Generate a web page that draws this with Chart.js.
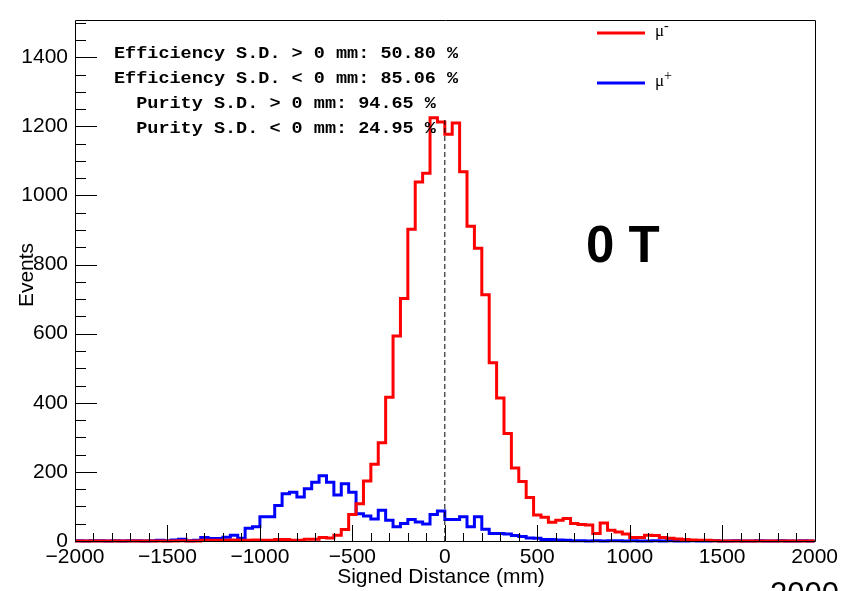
<!DOCTYPE html>
<html>
<head>
<meta charset="utf-8">
<script src="https://cdn.jsdelivr.net/npm/chart.js@4.4.1/dist/chart.umd.min.js"></script>
<style>
  html, body { margin: 0; padding: 0; background: #fff; }
  #wrap { width: 842px; height: 591px; position: relative; }
</style>
</head>
<body>
<div id="wrap"><canvas id="sdChart" width="842" height="591"></canvas></div>
<script>
// histogram binning: 100 bins of 40 mm from -2000 to 2000
const binLow = -2000;
const binWidth = 40;

// mu- (red) bin contents
const muMinus = [
  0, 0, 0, 0, 0, 0, 0, 0, 0, 0,
  0, 0, 0, 0, 1, 0, 0, 2, 2, 2,
  2, 3, 2, 2, 3, 2, 2, 4, 4, 2,
  2, 5, 5, 10, 9, 17, 33, 77, 108, 174,
  222, 284, 416, 593, 702, 902, 1039, 1064, 1225, 1213,
  1177, 1210, 1069, 911, 847, 713, 516, 414, 311, 211,
  172, 126, 75, 69, 54, 60, 65, 51, 48, 46,
  22, 52, 31, 26, 20, 10, 10, 17, 16, 10,
  8, 6, 4, 3, 2, 2, 1, 0, 0, 0,
  0, 0, 0, 0, 0, 0, 0, 0, 0, 0
];

// mu+ (blue) bin contents
const muPlus = [
  1, 0, 1, 1, 0, 1, 0, 1, 1, 0,
  1, 2, 1, 3, 5, 1, 2, 10, 7, 7,
  11, 17, 8, 37, 41, 70, 70, 103, 137, 141,
  127, 151, 170, 189, 170, 133, 166, 141, 79, 72,
  64, 89, 60, 41, 51, 62, 55, 49, 77, 87,
  62, 62, 70, 41, 70, 34, 22, 22, 20, 16,
  13, 9, 8, 4, 4, 3, 2, 1, 1, 0,
  1, 0, 1, 1, 0, 1, 0, 0, 1, 0,
  1, 0, 0, 1, 0, 0, 1, 0, 0, 1,
  0, 0, 1, 0, 0, 1, 0, 0, 1, 0
];

// axis ticks
const xTicks = [-2000, -1500, -1000, -500, 0, 500, 1000, 1500, 2000];
const yTicks = [0, 200, 400, 600, 800, 1000, 1200, 1400];

const statLines = [
  'Efficiency S.D. > 0 mm: 50.80 %',
  'Efficiency S.D. < 0 mm: 85.06 %',
  '  Purity S.D. > 0 mm: 94.65 %',
  '  Purity S.D. < 0 mm: 24.95 %'
];
const fieldLabel = '0 T';

// one point per bin edge; with stepped 'before' each bin is flat at its own content
function toSteps(counts) {
  const pts = counts.map((v, i) => ({ x: binLow + i * binWidth, y: v }));
  pts.push({ x: binLow + counts.length * binWidth, y: counts[counts.length - 1] });
  return pts;
}

const peak = Math.max(...muMinus);

const SANS = '"Liberation Sans", Arial, Helvetica, sans-serif';

const overlay = {
  id: 'overlay',
  afterDatasetsDraw(chart) {
    const ctx = chart.ctx;
    const a = chart.chartArea;
    const xs = chart.scales.x, ys = chart.scales.y;
    ctx.save();
    ctx.strokeStyle = '#000';
    ctx.lineWidth = 1;
    ctx.beginPath();
    ctx.rect(Math.round(a.left) + 0.5, Math.round(a.top) + 0.5,
             Math.round(a.right - a.left), Math.round(a.bottom - a.top));
    ctx.stroke();
    // y ticks (inside)
    ctx.beginPath();
    for (let v = 0; v <= ys.max; v += 50) {
      const y = Math.round(ys.getPixelForValue(v)) + 0.5;
      const len = v % 200 === 0 ? 22 : 11;
      ctx.moveTo(a.left, y);
      ctx.lineTo(a.left + len, y);
    }
    // x ticks (inside)
    for (let v = -2000; v <= 2000; v += 100) {
      const x = Math.round(xs.getPixelForValue(v)) + 0.5;
      const len = v % 500 === 0 ? 16 : 8;
      ctx.moveTo(x, a.bottom);
      ctx.lineTo(x, a.bottom - len);
    }
    ctx.stroke();
    ctx.restore();
  },
  afterDraw(chart) {
    const ctx = chart.ctx;
    ctx.save();
    ctx.fillStyle = '#000';

    // axis titles
    ctx.font = '21px ' + SANS;
    ctx.textAlign = 'center';
    ctx.textBaseline = 'alphabetic';
    ctx.fillText('Signed Distance (mm)', 441, 583);
    ctx.save();
    ctx.translate(33, 275);
    ctx.rotate(-Math.PI / 2);
    ctx.fillText('Events', 0, 0);
    ctx.restore();

    // efficiency / purity box
    ctx.textAlign = 'left';
    ctx.font = 'bold 17px "Liberation Mono", "DejaVu Sans Mono", monospace';
    const charW = 11.1;
    statLines.forEach((line, i) => {
      const w = ctx.measureText(line).width;
      const sx = (charW * line.length) / w;
      ctx.save();
      ctx.translate(114, 58 + i * 25);
      ctx.scale(sx, 1);
      ctx.fillText(line, 0, 0);
      ctx.restore();
    });

    // field label
    ctx.font = 'bold 51px ' + SANS;
    ctx.fillText(fieldLabel, 586, 262);

    // legend
    const legend = [
      { color: '#ff0000', sup: '-', y: 33 },
      { color: '#0000ff', sup: '+', y: 83 }
    ];
    legend.forEach(item => {
      ctx.strokeStyle = item.color;
      ctx.lineWidth = 3;
      ctx.beginPath();
      ctx.moveTo(597, item.y);
      ctx.lineTo(645, item.y);
      ctx.stroke();
      ctx.fillStyle = '#000';
      ctx.font = '17px "Liberation Serif", "DejaVu Serif", serif';
      ctx.fillText('\u03bc', 655, item.y + 3);
      ctx.font = '14px "Liberation Serif", "DejaVu Serif", serif';
      ctx.fillText(item.sup, 664, item.y - 3);
    });

    // stray label cut by the bottom edge
    ctx.font = '31px ' + SANS;
    ctx.fillText('2000', 770, 604);
    ctx.restore();
  }
};

const ctx = document.getElementById('sdChart').getContext('2d');
new Chart(ctx, {
  type: 'line',
  data: {
    datasets: [
      {
        label: 'x = 0',
        data: [{ x: 0, y: 0 }, { x: 0, y: peak }],
        borderColor: '#000',
        borderWidth: 1,
        borderDash: [5, 3],
        pointRadius: 0
      },
      {
        label: '\u03bc-',
        data: toSteps(muMinus),
        borderColor: '#ff0000',
        borderWidth: 3,
        stepped: 'before',
        pointRadius: 0,
        clip: 3
      },
      {
        label: '\u03bc+',
        data: toSteps(muPlus),
        borderColor: '#0000ff',
        borderWidth: 3,
        stepped: 'before',
        pointRadius: 0,
        clip: 3
      }
    ]
  },
  options: {
    responsive: false,
    animation: false,
    events: [],
    layout: { padding: { top: 15, right: 25, left: 0, bottom: 0 } },
    plugins: {
      legend: { display: false },
      tooltip: { enabled: false },
      title: { display: false }
    },
    scales: {
      x: {
        type: 'linear',
        min: -2000,
        max: 2000,
        afterBuildTicks: s => { s.ticks = xTicks.map(v => ({ value: v })); },
        afterFit: s => { s.height = 50; },
        grid: { display: false, drawTicks: false },
        border: { display: false },
        ticks: {
          autoSkip: false,
          maxRotation: 0,
          padding: 4,
          color: '#000',
          font: { family: SANS, size: 21 },
          callback: v => (v < 0 ? '\u2212' + Math.abs(v) : String(v))
        }
      },
      y: {
        type: 'linear',
        min: 0,
        max: 1509,
        afterBuildTicks: s => { s.ticks = yTicks.map(v => ({ value: v })); },
        afterFit: s => { s.width = 75; },
        grid: { display: false, drawTicks: false },
        border: { display: false },
        ticks: {
          padding: 7,
          color: '#000',
          font: { family: SANS, size: 21 },
          callback: v => String(v)
        }
      }
    }
  },
  plugins: [overlay]
});
</script>
</body>
</html>
